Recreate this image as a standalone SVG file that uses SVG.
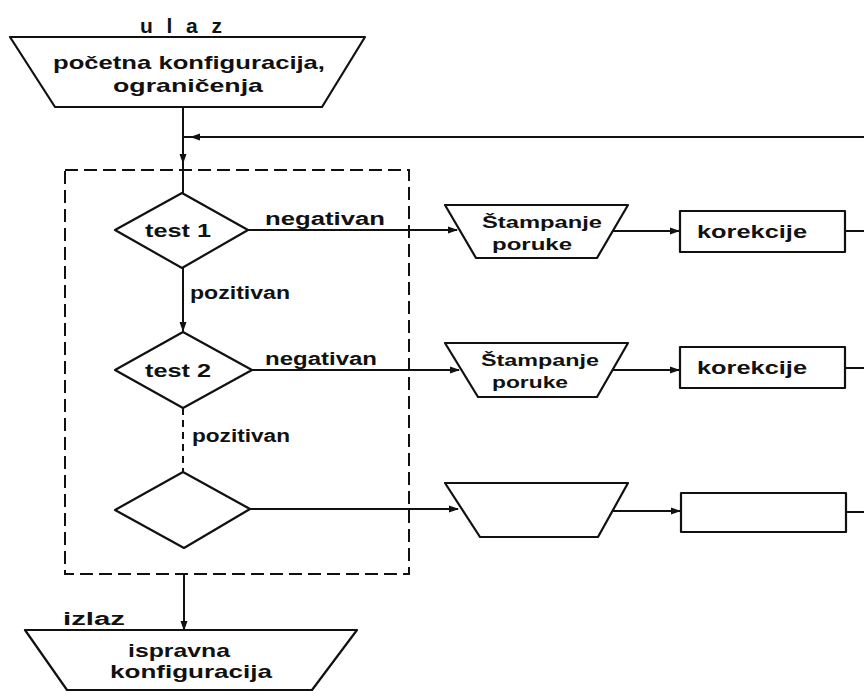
<svg xmlns="http://www.w3.org/2000/svg" width="864" height="691" viewBox="0 0 864 691">
<defs>
<marker id="ah" markerWidth="10" markerHeight="8" refX="9" refY="4" orient="auto" markerUnits="userSpaceOnUse">
<path d="M0,0.5 L10,4 L0,7.5 Z" fill="#111"/>
</marker>
<style>
.s{fill:#fff;stroke:#111;stroke-width:2.2;stroke-linejoin:round}
.l{fill:none;stroke:#111;stroke-width:2}
.d{fill:none;stroke:#111;stroke-width:2;stroke-dasharray:13,6}
.t{font-family:"Liberation Sans","DejaVu Sans",sans-serif;font-weight:bold;font-size:19px;fill:#111;text-anchor:middle}
.u{font-family:"Liberation Sans","DejaVu Sans",sans-serif;font-weight:bold;font-size:21px;fill:#111;text-anchor:middle}
.p{font-family:"Liberation Sans","DejaVu Sans",sans-serif;font-weight:bold;font-size:16px;fill:#111;text-anchor:middle}
.lb{font-family:"Liberation Sans","DejaVu Sans",sans-serif;font-weight:bold;font-size:18px;fill:#111}
</style>
</defs>
<rect width="864" height="691" fill="#fff"/>

<g id="connectors">
<path class="d" d="M65,170 H409 V574 H65 Z"/>
<path class="l" d="M183,107 V163" marker-end="url(#ah)"/>
<path class="l" d="M183,160 V193"/>
<path class="l" d="M864,137 H191" marker-end="url(#ah)"/>
<path class="l" d="M191,137 H183"/>
<path class="l" d="M248,230 H457" marker-end="url(#ah)"/>
<path class="l" d="M613,231 H679" marker-end="url(#ah)"/>
<path class="l" d="M845,231 H864"/>
<path class="l" d="M183,268 V331" marker-end="url(#ah)"/>
<path class="l" d="M252,370 H459" marker-end="url(#ah)"/>
<path class="l" d="M613,370 H679" marker-end="url(#ah)"/>
<path class="l" d="M845,368 H864"/>
<path class="l" d="M183,408 V472" stroke-dasharray="7,5"/>
<path class="l" d="M250,509 H458" marker-end="url(#ah)"/>
<path class="l" d="M613,511 H680" marker-end="url(#ah)"/>
<path class="l" d="M846,512 H864"/>
<path class="l" d="M184,574 V630" marker-end="url(#ah)"/>
</g>

<g id="input">
<text class="u" x="181" y="33" textLength="82" lengthAdjust="spacing">ulaz</text>
<path class="s" d="M10,37 H365 L322,107 H55 Z"/>
<text class="t" x="189" y="69" textLength="272" lengthAdjust="spacingAndGlyphs">početna konfiguracija,</text>
<text class="t" x="188" y="92" textLength="150" lengthAdjust="spacingAndGlyphs">ograničenja</text>
</g>

<g id="test1">
<path class="s" d="M182,193 L248,230 L182,268 L115,230 Z"/>
<text class="t" x="178" y="237" textLength="66" lengthAdjust="spacingAndGlyphs">test 1</text>
<text class="lb" x="265" y="225" textLength="120" lengthAdjust="spacingAndGlyphs">negativan</text>
<text class="lb" x="190" y="299" textLength="100" lengthAdjust="spacingAndGlyphs">pozitivan</text>
</g>

<g id="print1">
<path class="s" d="M445,205 H628 L597,258 H476 Z"/>
<text class="p" x="542" y="228" textLength="120" lengthAdjust="spacingAndGlyphs">Štampanje</text>
<text class="p" x="532" y="250" textLength="80" lengthAdjust="spacingAndGlyphs">poruke</text>
</g>

<g id="corr1">
<rect class="s" x="680" y="211" width="165" height="41"/>
<text class="t" x="752" y="238" textLength="110" lengthAdjust="spacingAndGlyphs">korekcije</text>
</g>

<g id="test2">
<path class="s" d="M183,332 L252,370 L183,408 L115,370 Z"/>
<text class="t" x="178" y="377" textLength="66" lengthAdjust="spacingAndGlyphs">test 2</text>
<text class="lb" x="265" y="365" textLength="112" lengthAdjust="spacingAndGlyphs">negativan</text>
<text class="lb" x="192" y="442" textLength="98" lengthAdjust="spacingAndGlyphs">pozitivan</text>
</g>

<g id="print2">
<path class="s" d="M445,343 H628 L597,397 H478 Z"/>
<text class="p" x="540" y="366" textLength="118" lengthAdjust="spacingAndGlyphs">Štampanje</text>
<text class="p" x="530" y="388" textLength="76" lengthAdjust="spacingAndGlyphs">poruke</text>
</g>

<g id="corr2">
<rect class="s" x="680" y="347" width="165" height="41"/>
<text class="t" x="752" y="374" textLength="110" lengthAdjust="spacingAndGlyphs">korekcije</text>
</g>

<g id="test3">
<path class="s" d="M183,472 L250,509 L184,548 L115,510 Z"/>
</g>

<g id="print3">
<path class="s" d="M445,483 H628 L598,537 H480 Z"/>
</g>

<g id="corr3">
<rect class="s" x="681" y="493" width="165" height="39"/>
</g>

<g id="output">
<text class="lb" x="63" y="625" textLength="62" lengthAdjust="spacingAndGlyphs">izlaz</text>
<path class="s" d="M25,630 H357 L312,690 H67 Z"/>
<text class="t" x="179" y="657" textLength="102" lengthAdjust="spacingAndGlyphs">ispravna</text>
<text class="t" x="191" y="678" textLength="162" lengthAdjust="spacingAndGlyphs">konfiguracija</text>
</g>
</svg>
